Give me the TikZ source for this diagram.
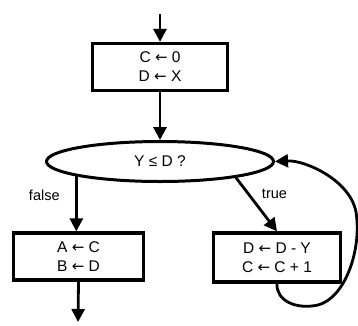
\documentclass[tikz,border=0pt]{standalone}
\usepackage{fontspec}
\setmainfont{Liberation Sans}
\newfontfamily\arrowfont{DejaVu Sans}
\newcommand{\asg}{ {\arrowfont\fontsize{15}{15}\selectfont ←} }
\usetikzlibrary{arrows.meta,shapes.geometric}
\begin{document}
\begin{tikzpicture}[x=1pt,y=-1pt,
  box/.style={draw,line width=3.3pt,minimum width=#1,minimum height=47pt,inner sep=0pt,align=center,
    font=\fontsize{15.5}{19}\selectfont},
  decision/.style={draw,ellipse,line width=3pt,minimum width=227pt,minimum height=40pt,inner sep=0pt,
    font=\fontsize{15.5}{16}\selectfont},
  lbl/.style={font=\fontsize{14.5}{15}\selectfont},
  flow/.style={line width=2.8pt,-{Triangle[length=13pt,width=13pt]}}]
\useasboundingbox (0,0) rectangle (358,325);
\coordinate (top) at (160,14);
\node[box=135pt] (init) at (160,67) {C\asg 0\\D\asg X};
\node[decision] (test) at (160,161.5) {Y ≤ D ?};
\node[box=130pt] (fin) at (78.5,256.5) {A\asg C\\B\asg D};
\node[box=127pt,minimum height=49pt] (loop) at (277,257.5) {D\asg D - Y\\C\asg C + 1};
\coordinate (bot) at (78,322);
\draw[flow] (top) -- (init.north);
\draw[flow] (init.south) -- (init.south |- test.north);
\draw[flow] (test.190) -- node[lbl,left=12pt,pos=0.35] {false} (test.190 |- fin.north);
\draw[flow] (test.348) -- node[lbl,right=9pt,pos=0.3] {true} (loop.north);
\draw[flow] (fin.south) -- (bot);
\draw[flow] (loop.south) .. controls (276,300) and (295,310) .. (318,305)
  .. controls (345,298) and (362,250) .. (356,212)
  .. controls (350,180) and (305,160) .. (test.east);
\end{tikzpicture}
\end{document}
